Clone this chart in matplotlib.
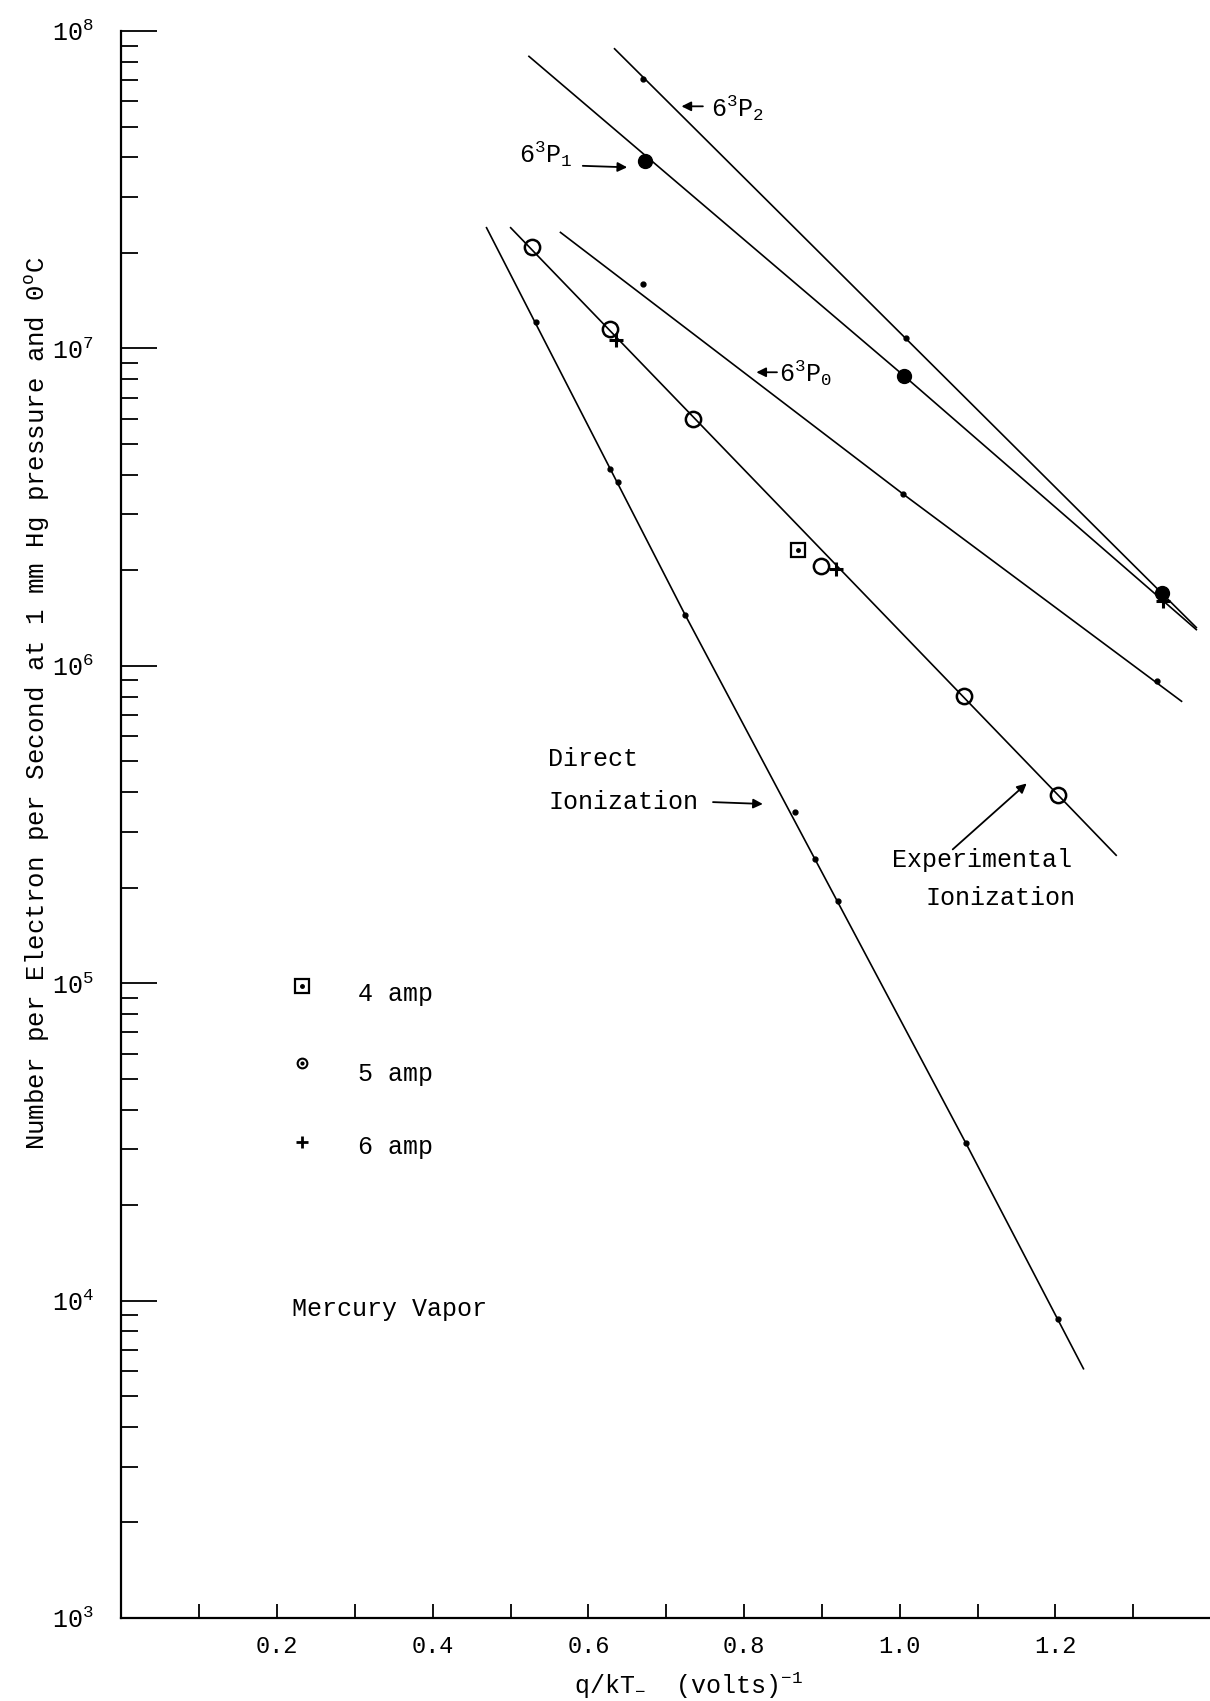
import math
import matplotlib
matplotlib.use("Agg")
import matplotlib.pyplot as plt
from matplotlib.ticker import MultipleLocator, LogLocator, FuncFormatter, NullFormatter

plt.rcParams['font.family'] = ['Liberation Mono', 'DejaVu Sans Mono']
plt.rcParams['mathtext.default'] = 'regular'

# --- lines (vertices) ---
direct_line_x = [0.469, 0.724, 1.085, 1.236]
direct_line_y = [2.4e7, 1.45e6, 3.13e4, 6.1e3]
exp_line_x = [0.500, 1.278]
exp_line_y = [2.4e7, 2.53e5]
p0_line_x = [0.564, 1.004, 1.362]
p0_line_y = [2.32e7, 3.48e6, 7.73e5]
p1_line_x = [0.5235, 1.0053, 1.381]
p1_line_y = [8.32e7, 8.2e6, 1.30e6]
p2_line_x = [0.6335, 1.381]
p2_line_y = [8.79e7, 1.32e6]

# --- data points ---
direct_x = [0.532, 0.628, 0.638, 0.724, 0.865, 0.891, 0.920, 1.085, 1.203]
direct_y = [1.21e7, 4.17e6, 3.8e6, 1.45e6, 3.47e5, 2.47e5, 1.82e5, 3.13e4, 8.75e3]
p0_x = [0.670, 1.004, 1.330]
p0_y = [1.59e7, 3.48e6, 8.98e5]
p1_x = [0.6725, 1.0053, 1.3365]
p1_y = [3.9e7, 8.2e6, 1.69e6]
p2_x = [0.6697, 1.008]
p2_y = [7.05e7, 1.08e7]
amp4_x = [0.869]
amp4_y = [2.31e6]
amp5_x = [0.528, 0.628, 0.734, 0.899, 1.082, 1.203]
amp5_y = [2.08e7, 1.15e7, 5.99e6, 2.07e6, 8.04e5, 3.93e5]
amp6_x = [0.636, 0.9175, 1.338]
amp6_y = [1.06e7, 2.02e6, 1.6e6]

xtick_labels = ['0.2', '0.4', '0.6', '0.8', '1.0', '1.2']

W, H = 1210, 1701
fig = plt.figure(figsize=(W / 100, H / 100), dpi=100)
ax = fig.add_axes([121.5 / W, 1 - 1618 / H, 1088.5 / W, 1587 / H])
ax.set_yscale('log')
ax.set_ylim(1e3, 1e8)
ax.set_xlim(0, 1088.5 / 778.3)

for s in ['top', 'right']:
    ax.spines[s].set_visible(False)
for s in ['left', 'bottom']:
    ax.spines[s].set_linewidth(1.6)

lw = 1.2
ax.plot(direct_line_x, direct_line_y, color='black', lw=lw)
ax.plot(exp_line_x, exp_line_y, color='black', lw=lw)
ax.plot(p0_line_x, p0_line_y, color='black', lw=lw)
ax.plot(p1_line_x, p1_line_y, color='black', lw=lw)
ax.plot(p2_line_x, p2_line_y, color='black', lw=lw)

ax.plot(direct_x, direct_y, 'o', color='black', ms=3.5)
ax.plot(p0_x, p0_y, 'o', color='black', ms=3.5)
ax.plot(p2_x, p2_y, 'o', color='black', ms=3.5)
ax.plot(p1_x, p1_y, 'o', color='black', ms=10)
ax.plot(amp5_x, amp5_y, 'o', mfc='none', mec='black', mew=1.8, ms=11)
ax.plot(amp4_x, amp4_y, 's', mfc='none', mec='black', mew=1.6, ms=10)
ax.plot(amp4_x, amp4_y, 'o', color='black', ms=2.5)
ax.plot(amp6_x, amp6_y, '+', color='black', mew=2.2, ms=10)

# ticks
ax.xaxis.set_major_locator(MultipleLocator(0.1))
labels_map = {round(float(t) * 10): t for t in xtick_labels}
ax.xaxis.set_major_formatter(FuncFormatter(lambda v, p: labels_map.get(round(v * 10), '')))
ax.yaxis.set_major_locator(LogLocator(base=10))
ax.yaxis.set_minor_locator(LogLocator(base=10, subs=range(2, 10)))
ax.yaxis.set_minor_formatter(NullFormatter())
ax.yaxis.set_major_formatter(FuncFormatter(lambda v, p: r'$10^{%d}$' % round(math.log10(v))))
ax.tick_params(axis='y', which='major', direction='in', length=26, width=1.3, pad=20, labelsize=18)
ax.tick_params(axis='y', which='minor', direction='in', length=12, width=1.3)
ax.tick_params(axis='x', which='major', direction='in', length=10, width=1.3, pad=12, labelsize=17)

# axis labels
fig.text(38 / W, 1 - 703 / H, 'Number per Electron per Second at 1 mm Hg pressure and 0$^{o}$C',
         rotation=90, ha='center', va='center', fontsize=18.5)
fig.text(688 / W, 1 - 1694 / H, 'q/kT$_{-}$  (volts)$^{-1}$', ha='center', va='baseline', fontsize=18)

# curve labels
arrow = dict(arrowstyle='-|>', color='black', lw=1.3, mutation_scale=14, shrinkA=0, shrinkB=0)
ax.annotate('', xy=(0.7195, 5.79e7), xytext=(0.747, 5.79e7), arrowprops=arrow)
ax.text(0.757, 5.36e7, r'$6^{3}P_{2}$', fontsize=18, va='baseline')
ax.text(0.5103, 3.84e7, r'$6^{3}P_{1}$', fontsize=18, va='baseline')
ax.annotate('', xy=(0.6497, 3.72e7), xytext=(0.5927, 3.76e7), arrowprops=arrow)
ax.annotate('', xy=(0.8157, 8.41e6), xytext=(0.8422, 8.41e6), arrowprops=arrow)
ax.text(0.845, 7.83e6, r'$6^{3}P_{0}$', fontsize=18, va='baseline')

ax.text(0.548, 5.1e5, 'Direct', fontsize=18, va='center')
ax.text(0.548, 3.72e5, 'Ionization', fontsize=18, va='center')
ax.annotate('', xy=(0.824, 3.67e5), xytext=(0.760, 3.72e5), arrowprops=arrow)
ax.text(0.990, 2.45e5, 'Experimental', fontsize=18, va='center')
ax.text(1.033, 1.85e5, 'Ionization', fontsize=18, va='center')
ax.annotate('', xy=(1.163, 4.26e5), xytext=(1.068, 2.64e5), arrowprops=arrow)

# key
ax.plot([0.1655], [0.3982], 's', mfc='none', mec='black', mew=1.6, ms=10, transform=ax.transAxes)
ax.plot([0.1655], [0.3982], 'o', color='black', ms=2.5, transform=ax.transAxes)
ax.plot([0.1655], [0.3495], 'o', mfc='none', mec='black', mew=1.5, ms=7, transform=ax.transAxes)
ax.plot([0.1655], [0.3495], 'o', color='black', ms=2, transform=ax.transAxes)
ax.plot([0.1655], [0.3001], '+', color='black', mew=2, ms=8, transform=ax.transAxes)
ax.text(0.2173, 0.3932, '4 amp', transform=ax.transAxes, fontsize=18, va='center')
ax.text(0.2173, 0.3425, '5 amp', transform=ax.transAxes, fontsize=18, va='center')
ax.text(0.2173, 0.2968, '6 amp', transform=ax.transAxes, fontsize=18, va='center')
ax.text(0.1564, 0.1947, 'Mercury Vapor', transform=ax.transAxes, fontsize=18, va='center')

fig.savefig('out.png', dpi=100)
